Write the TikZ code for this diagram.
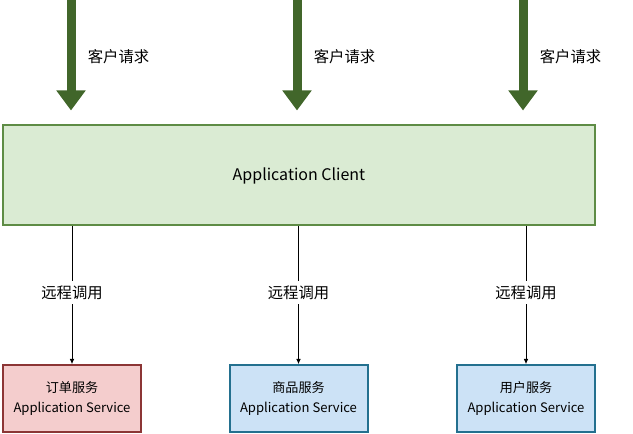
\documentclass[tikz,border=0pt]{standalone}
\usepackage{fontspec}
\setmainfont{Noto Sans CJK SC}
\usetikzlibrary{arrows.meta}
\definecolor{reqgreen}{HTML}{41662A}
\definecolor{clientline}{HTML}{5E8C45}
\definecolor{clientfill}{HTML}{DAEBD3}
\definecolor{orderline}{HTML}{8C3535}
\definecolor{orderfill}{HTML}{F4CDCD}
\definecolor{svcline}{HTML}{23708F}
\definecolor{svcfill}{HTML}{CCE2F6}

\begin{document}
\begin{tikzpicture}[x=0.75pt, y=-0.75pt,
	req/.style={line width=6.75pt, draw=reqgreen, shorten >=10.5pt,
		-{Triangle[length=15pt, width=21pt]}},
	call/.style={draw=black, line width=0.6pt, -{Latex[length=4pt, width=3.5pt]}},
	svc/.style={line width=1.5pt, minimum width=103.5pt, minimum height=50pt,
		inner sep=0pt, align=center, font=\fontsize{9.8}{15}\selectfont},
	lbl/.style={font=\fontsize{11.5}{14}\selectfont}]
	\useasboundingbox (0,0) rectangle (633,434);

	\node[draw=clientline, fill=clientfill, line width=1.5pt, minimum width=444pt,
		minimum height=75pt, font=\fontsize{12}{14}\selectfont]
		(client) at (299,175.5) {Application Client};

	% client requests
	\foreach \i/\x in {1/71, 2/297, 3/523} {
		\coordinate (src\i) at (\x, 0);
		\draw[req] (src\i) -- (src\i |- client.north);
		\node[lbl] (req\i) at (\x+47.5, 57) {客户请求};
	}

	% services
	\node[svc, draw=orderline, fill=orderfill] (svc1) at (72, 398.5) {订单服务\\Application Service};
	\node[svc, draw=svcline, fill=svcfill] (svc2) at (298.5, 398.5) {商品服务\\Application Service};
	\node[svc, draw=svcline, fill=svcfill] (svc3) at (526, 398.5) {用户服务\\Application Service};

	\foreach \i in {1, 2, 3}
	\draw[call] (client.south -| svc\i.north) -- node[lbl, fill=white, pos=0.48] (rpc\i) {远程调用} (svc\i.north);
\end{tikzpicture}
\end{document}
